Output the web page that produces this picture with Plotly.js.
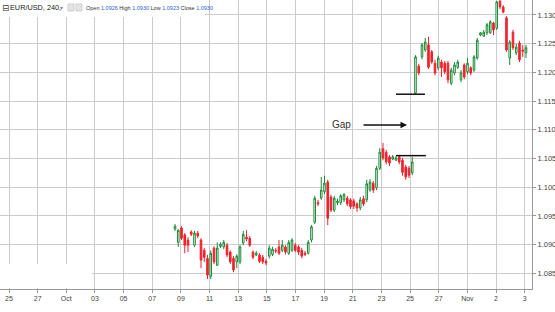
<!DOCTYPE html>
<html>
<head>
<meta charset="utf-8">
<script src="https://cdn.plot.ly/plotly-3.0.1.min.js"></script>
<style>html,body{margin:0;padding:0;background:#fff;}#chart{width:555px;height:312px;}</style>
</head>
<body>
<div id="chart"></div>
<script>
// x-axis tick labels (dates)
const tickLabels = ["25","27","Oct","03","05","07","09","11","13","15","17","19","21","23","25","27","Nov","2","3"];
const yTicks = [1.085,1.090,1.095,1.100,1.105,1.110,1.115,1.120,1.125,1.130];

// EUR/USD 240 (4h) candles
const open = [1.0927,1.0904,1.0929,1.0917,1.0908,1.0922,1.0899,1.0920,1.0908,1.0890,1.0876,1.0845,1.0894,1.0864,1.0897,1.0896,1.0899,1.0887,1.0876,1.0870,1.0870,1.0903,1.0913,1.0911,1.0887,1.0882,
  1.0882,1.0878,1.0871,1.0880,1.0883,1.0890,1.0896,1.0890,1.0896,1.0885,1.0890,1.0899,1.0896,1.0890,1.0885,1.0885,1.0908,1.0939,1.0973,1.0981,1.0992,1.1009,1.0983,1.0960,1.0973,1.0973,1.0978,1.0981,1.0978,1.0976,1.0971,1.0964,1.0980,1.0978,1.0995,1.1007,1.0999,1.1033,1.1067,1.1061,1.1053,1.1049,1.1047,1.1053,1.1047,1.1035,1.1033,1.1025,
  1.1164,1.1211,1.1227,1.1239,1.1248,1.1236,1.1216,1.1208,1.1218,1.1216,1.1216,1.1181,1.1199,1.1209,1.1187,1.1213,1.1201,1.1208,1.1204,1.1225,1.1265,1.1263,1.1269,1.1269,1.1286,1.1277,1.1324,1.1314,1.1295,1.1225,1.1270,1.1234,1.1251,1.1239,1.1234];
const high = [1.0936,1.0927,1.0932,1.0920,1.0913,1.0925,1.0924,1.0924,1.0911,1.0894,1.0882,1.0890,1.0897,1.0904,1.0904,1.0908,1.0903,1.0890,1.0880,1.0883,1.0899,1.0924,1.0925,1.0915,1.0890,1.0889,
  1.0885,1.0882,1.0875,1.0899,1.0896,1.0894,1.0908,1.0908,1.0899,1.0908,1.0911,1.0903,1.0899,1.0894,1.0889,1.0908,1.0934,1.0985,1.0978,1.1018,1.1020,1.1013,1.0987,1.0985,1.0980,1.0988,1.0990,1.0985,1.0981,1.0980,1.0974,1.0983,1.0985,1.1013,1.1014,1.1011,1.1037,1.1068,1.1077,1.1065,1.1056,1.1056,1.1054,1.1056,1.1051,1.1039,1.1037,1.1053,
  1.1230,1.1215,1.1251,1.1260,1.1262,1.1239,1.1222,1.1229,1.1222,1.1220,1.1220,1.1208,1.1218,1.1222,1.1204,1.1216,1.1225,1.1211,1.1230,1.1260,1.1270,1.1274,1.1286,1.1291,1.1288,1.1324,1.1326,1.1317,1.1298,1.1256,1.1274,1.1250,1.1255,1.1248,1.1248];
const low = [1.0924,1.0896,1.0908,1.0885,1.0887,1.0915,1.0896,1.0911,1.0859,1.0870,1.0840,1.0840,1.0866,1.0863,1.0894,1.0892,1.0878,1.0866,1.0852,1.0859,1.0866,1.0899,1.0906,1.0896,1.0875,1.0880,
  1.0868,1.0866,1.0864,1.0876,1.0880,1.0885,1.0882,1.0887,1.0883,1.0882,1.0887,1.0887,1.0882,1.0876,1.0880,1.0883,1.0904,1.0936,1.0967,1.0978,1.0988,1.0934,1.0957,1.0957,1.0969,1.0969,1.0974,1.0967,1.0962,1.0962,1.0957,1.0960,1.0967,1.0974,1.0992,1.0990,1.0995,1.1030,1.1047,1.1040,1.1037,1.1047,1.1046,1.1040,1.1020,1.1013,1.1016,1.1021,
  1.1161,1.1195,1.1223,1.1236,1.1206,1.1215,1.1195,1.1204,1.1192,1.1197,1.1181,1.1178,1.1195,1.1206,1.1183,1.1188,1.1197,1.1195,1.1201,1.1222,1.1263,1.1262,1.1265,1.1267,1.1265,1.1274,1.1310,1.1303,1.1236,1.1213,1.1239,1.1230,1.1218,1.1227,1.1225];
const close = [1.0932,1.0925,1.0911,1.0899,1.0899,1.0918,1.0920,1.0915,1.0873,1.0878,1.0847,1.0885,1.0870,1.0894,1.0901,1.0904,1.0882,1.0870,1.0856,1.0880,1.0896,1.0918,1.0910,1.0899,1.0878,1.0885,
  1.0871,1.0870,1.0868,1.0894,1.0892,1.0889,1.0885,1.0899,1.0887,1.0904,1.0908,1.0890,1.0887,1.0880,1.0883,1.0904,1.0931,1.0981,1.0971,1.0995,1.1007,1.0946,1.0960,1.0981,1.0976,1.0985,1.0987,1.0971,1.0966,1.0967,1.0964,1.0978,1.0971,1.1006,1.1009,1.0995,1.1033,1.1061,1.1051,1.1044,1.1042,1.1053,1.1051,1.1044,1.1026,1.1018,1.1021,1.1044,
  1.1227,1.1199,1.1248,1.1253,1.1209,1.1218,1.1199,1.1225,1.1208,1.1201,1.1187,1.1204,1.1213,1.1218,1.1199,1.1192,1.1216,1.1199,1.1227,1.1256,1.1269,1.1270,1.1283,1.1288,1.1274,1.1323,1.1314,1.1305,1.1239,1.1253,1.1243,1.1244,1.1222,1.1237,1.1243];

// gap levels
const gapLow = 1.1055;
const gapHigh = 1.1162;

const bars = open.map((_, i) => i);

// axis geometry (bar units)
const firstTickBar = -51.08, barsPerTick = 8.815;
const tickVals = tickLabels.map((_, k) => firstTickBar + k * barsPerTick);

const green = '#188a36', red = '#f2202b';
const trace = {
  type: 'candlestick', x: bars, open: open, high: high, low: low, close: close,
  increasing: {line: {color: green, width: 1}, fillcolor: '#ffffff'},
  decreasing: {line: {color: red, width: 1}, fillcolor: red},
  whiskerwidth: 0, hoverinfo: 'skip', showlegend: false
};

const W = 532, H = 289;
const hdrFont = 'Liberation Sans, Arial, sans-serif';
const layout = {
  width: 555, height: 312,
  margin: {l: 0, r: 23, t: 0, b: 23, pad: 0},
  paper_bgcolor: '#ffffff', plot_bgcolor: '#ffffff',
  font: {family: 'Liberation Sans, Arial, sans-serif', color: '#444'},
  showlegend: false,
  xaxis: {
    range: [-53.85, 109.85], tickmode: 'array', tickvals: tickVals, ticktext: tickLabels,
    showgrid: true, gridcolor: '#cccccc', gridwidth: 1, zeroline: false,
    ticks: 'outside', ticklen: 3, tickcolor: '#999', showline: true, linecolor: '#999', linewidth: 1,
    tickfont: {size: 7, color: '#444'}, rangeslider: {visible: false}, fixedrange: true
  },
  yaxis: {
    side: 'right', range: [1.08227, 1.13261], tickmode: 'array', tickvals: yTicks,
    ticktext: yTicks.map(v => v.toFixed(3)),
    showgrid: true, gridcolor: '#cccccc', gridwidth: 1, zeroline: false,
    ticks: 'outside', ticklen: 3, tickcolor: '#999', showline: true, linecolor: '#999', linewidth: 1,
    tickfont: {size: 7.5, color: '#444'}, fixedrange: true
  },
  shapes: [
    {type: 'rect', xref: 'paper', yref: 'paper', x0: 0, x1: 205 / W, y0: 1 - 17 / H, y1: 1, fillcolor: '#ffffff', line: {width: 0}},
    {type: 'rect', xref: 'paper', yref: 'paper', x0: 0, x1: 92 / W, y0: 0.004, y1: 1 - 264 / H, fillcolor: '#ffffff', line: {width: 0}},
    {type: 'rect', xref: 'paper', yref: 'paper', x0: 68 / W, x1: 74 / W, y0: 1 - 11 / H, y1: 1 - 4 / H, fillcolor: '#e4e4e4', line: {color: '#cfcfcf', width: 1}},
    {type: 'rect', xref: 'paper', yref: 'paper', x0: 76 / W, x1: 82 / W, y0: 1 - 11 / H, y1: 1 - 4 / H, fillcolor: '#e4e4e4', line: {color: '#cfcfcf', width: 1}},
    {type: 'line', xref: 'x', yref: 'y', x0: 68, x1: 77.2, y0: gapLow, y1: gapLow, line: {color: '#111', width: 1.5}},
    {type: 'line', xref: 'x', yref: 'y', x0: 68, x1: 76.9, y0: gapHigh, y1: gapHigh, line: {color: '#111', width: 1.5}}
  ],
  annotations: [
    {xref: 'paper', yref: 'paper', x: 0, y: 1 - 8 / H, xanchor: 'left', yanchor: 'middle', showarrow: false,
     text: '⊟', font: {size: 8.5, color: '#333', family: 'DejaVu Sans, sans-serif'}},
    {xref: 'paper', yref: 'paper', x: 8 / W, y: 1 - 8 / H, xanchor: 'left', yanchor: 'middle', showarrow: false,
     text: 'EUR/USD, 240,', font: {size: 7.3, color: '#222', family: hdrFont}},
    {xref: 'paper', yref: 'paper', x: 58 / W, y: 1 - 8 / H, xanchor: 'left', yanchor: 'middle', showarrow: false,
     text: '▾', font: {size: 6, color: '#888', family: 'DejaVu Sans, sans-serif'}},
    {xref: 'paper', yref: 'paper', x: 84 / W, y: 1 - 8 / H, xanchor: 'left', yanchor: 'middle', showarrow: false,
     text: 'Open <span style="color:#2a5bd7">1.0926</span> High <span style="color:#2a5bd7">1.0930</span> Low <span style="color:#2a5bd7">1.0923</span> Close <span style="color:#2a5bd7">1.0930</span>',
     font: {size: 5.5, color: '#333', family: hdrFont}},
    {xref: 'paper', yref: 'paper', x: 341 / W, y: 1 - 125 / H, xanchor: 'center', yanchor: 'middle', showarrow: false,
     text: 'Gap', font: {size: 10, color: '#333'}},
    {xref: 'paper', yref: 'paper', x: 407 / W, y: 1 - 125 / H, ax: -45, ay: 0, text: '', showarrow: true,
     arrowhead: 2, arrowsize: 1, arrowwidth: 1.3, arrowcolor: '#111'}
  ]
};

Plotly.newPlot('chart', [trace], layout, {staticPlot: true, displayModeBar: false});
</script>
</body>
</html>
